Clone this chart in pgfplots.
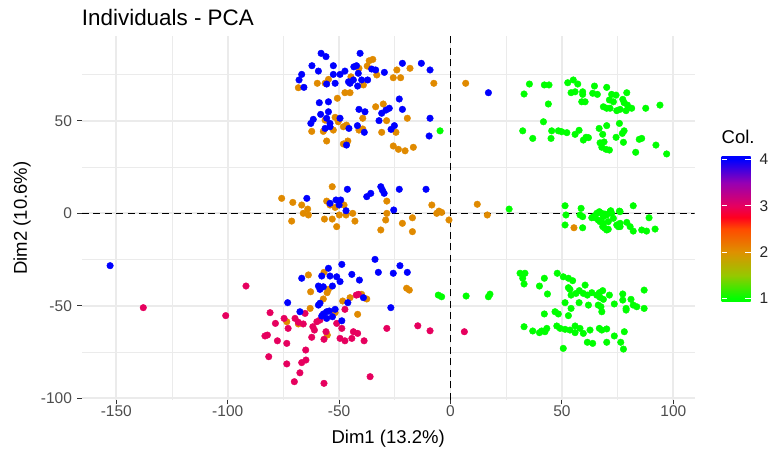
\documentclass[border=0pt]{standalone}
\usepackage{fontspec}
\setmainfont{Liberation Sans}
\usepackage{pgfplots}
\pgfplotsset{compat=1.18}
\definecolor{grpA}{RGB}{0,255,0}
\definecolor{grpB}{RGB}{224,138,0}
\definecolor{grpC}{RGB}{230,0,94}
\definecolor{grpD}{RGB}{0,0,255}
\definecolor{gridc}{RGB}{235,235,235}
\definecolor{tickc}{RGB}{51,51,51}
\definecolor{labc}{RGB}{77,77,77}
\pgfplotsset{colormap={pca}{rgb255(0pt)=(0,255,0); rgb255(29pt)=(0,255,0); rgb255(219pt)=(150,200,0);
  rgb255(410pt)=(222,145,0); rgb255(600pt)=(255,75,0); rgb255(695pt)=(255,0,30); rgb255(790pt)=(230,0,95);
  rgb255(981pt)=(150,0,180); rgb255(1171pt)=(0,0,255); rgb255(1200pt)=(0,0,255)}}
\newcommand{\tickfont}{\fontsize{15.5}{18}\selectfont}
\newcommand{\labfont}{\fontsize{18.5}{22}\selectfont}
\tikzset{pts/.style={only marks, mark=*, mark size=3.3pt, mark options={draw=none}}}
\begin{document}
\begin{tikzpicture}
\begin{axis}[
  name=ax,
  scale only axis, width=612.7pt, height=363.5pt,
  xmin=-165.5, xmax=109.5, ymin=-100.8, ymax=95.7,
  axis line style={draw=none},
  tick pos=left, tick align=outside,
  major tick length=4.7pt, minor tick length=0pt,
  tick style={tickc, line width=0.9pt},
  xtick={-150,-100,-50,0,50,100}, xticklabels={-150,-100,-50,0,50,100},
  ytick={-100,-50,0,50}, yticklabels={-100,-50,0,50},
  minor xtick={-125,-75,-25,25,75}, minor ytick={-75,-25,25,75},
  grid=both,
  major grid style={gridc, line width=1.7pt},
  minor grid style={gridc, line width=0.85pt},
  ticklabel style={font=\tickfont, text=labc},
  xticklabel style={anchor=north, inner sep=0pt, yshift=-1pt},
  yticklabel style={anchor=east, inner sep=0pt, xshift=-5pt},
  point meta min=0.925, point meta max=4.075,
  colormap name=pca,
  colorbar,
  colorbar/width=29pt,
  colorbar style={
    at={(parent axis.south east)}, anchor=south west,
    xshift=18.5pt, yshift=97.8pt,
    scale only axis, width=29pt, height=146pt,
    axis line style={draw=none},
    ytick={1,2,3,4}, yticklabels={1,2,3,4},
    tick align=inside, ytick pos=both, yticklabel pos=right,
    major tick length=5.8pt,
    tick style={white, line width=1pt},
    yticklabel style={font=\tickfont, text=black!85, anchor=west, inner sep=0pt, xshift=9pt},
    title={Col.},
    title style={at={(0,1)}, anchor=base west, inner sep=0pt, yshift=6pt, font=\labfont},
  },
]
% group 1
\addplot[pts, color=grpA] coordinates {
(35.4,69.9) (33.0,64.5) (42.1,69.4) (44.2,69.4) (43.9,59.1) (52.6,70.6) (55.1,72.1) (57.1,69.9)
(54.1,65.2) (55.9,65.7) (59.3,65.7) (59.3,64.3) (58.9,60.3) (60.4,60.3) (64.6,68.8) (63.8,64.9)
(65.9,64.3) (70.1,68.1) (72.3,64.3) (74.3,63.9) (71.3,61.3) (73.1,60.3) (79.1,65.2) (77.3,61.6)
(77.9,59.8) (79.4,58.5) (68.6,57.6) (70.1,56.8) (71.6,56.8) (74.6,55.5) (76.1,56.2) (78.8,55.5)
(81.3,56.8) (87.6,56.8) (94.0,58.5) (41.7,49.5) (32.4,44.6) (36.9,40.5) (45.1,40.5) (45.4,44.6)
(48.4,44.6) (49.9,44.1) (52.2,43.6) (55.9,42.7) (57.7,44.9) (59.6,39.6) (60.8,41.1) (61.9,40.9)
(66.7,45.9) (70.1,47.4) (75.8,48.6) (68.3,42.7) (77.9,44.6) (77.1,43.2) (74.3,41.1) (67.1,38.1)
(68.9,38.6) (67.9,35.7) (69.8,34.6) (71.3,34.2) (77.6,38.4) (84.7,40.0) (85.8,40.5) (92.2,36.9)
(83.1,33.0) (97.0,32.1) (-4.7,44.6)
(26.3,2.3) (51.4,4.1) (51.8,-0.9) (51.4,-6.3) (58.6,2.7) (58.1,-0.9) (59.3,-1.8) (59.3,-7.8)
(63.4,-2.4) (65.6,0) (66.8,0.9) (67.9,0) (68.6,-1.8) (66.3,-3.6) (67.1,-4.5) (68.3,-7.2)
(70.1,-9.0) (70.8,-4.5) (71.9,1.4) (73.1,-2.7) (75.3,-7.2) (76.1,-7.2) (75.8,1.2) (79.1,-4.9)
(80.6,-7.2) (82.0,-9.6) (82.0,4.1) (85.8,-9.0) (88.0,-9.6) (89.1,-2.4) (91.8,-8.5) (64.9,-2.4)
(70.1,-0.9) (64.1,-1.8) (69.3,-0.4) (71.6,0.9) (72.3,0) (68.6,-5.4) (69.3,-8.1) (70.8,-8.6)
(74.6,-6.3) (76.1,-5.4) (76.1,0.9)
(-5.5,-44.2) (-4.0,-45.1) (7.0,-44.7) (17.0,-45.1) (17.7,-43.7) (31.2,-32.4) (33.4,-32.4) (32.4,-35.1)
(33.0,-38.2) (42.1,-35.1) (39.9,-39.3) (43.5,-43.6) (47.9,-32.4) (50.6,-34.3) (52.9,-35.1) (54.8,-36.4)
(52.9,-40.2) (53.6,-41.1) (54.1,-44.2) (56.3,-43.3) (57.8,-41.8) (60.4,-38.8) (59.6,-43.3) (61.4,-44.2)
(63.4,-42.9) (65.6,-44.2) (66.8,-42.9) (68.3,-41.8) (71.3,-44.2) (67.1,-45.4) (68.6,-46.5) (61.9,-49.6)
(57.7,-48.3) (54.1,-51.4) (51.4,-48.3) (52.9,-55.3) (46.9,-53.2) (48.4,-54.4) (42.1,-54.4) (66.3,-49.6)
(67.5,-50.5) (67.9,-53.2) (73.5,-49.0) (77.3,-43.6) (77.3,-46.9) (78.8,-51.4) (78.8,-52.3) (81.0,-46.5)
(82.0,-49.6) (83.6,-50.5) (86.9,-51.4) (86.9,-41.5) (33.0,-61.3) (36.9,-63.6) (39.9,-64.5) (40.9,-63.6)
(42.4,-64.0) (43.2,-62.2) (47.7,-60.9) (49.2,-62.2) (51.4,-62.7) (53.6,-63.1) (55.9,-60.9) (55.9,-64.5)
(58.1,-62.2) (59.6,-64.9) (62.6,-63.1) (66.8,-62.2) (70.1,-62.5) (73.5,-66.3) (78.0,-64.0) (61.4,-69.7)
(63.8,-70.3) (70.1,-69.7) (76.4,-69.7) (77.6,-73.4) (50.6,-73.0) (67.9,-63.1)
};
% group 2
\addplot[pts, color=grpB] coordinates {
(-68.3,67.9) (-59.8,70.3) (-56.3,70.3) (-54.8,72.4) (-44.7,73.8) (-41.1,78.4) (-37.4,79.6) (-36.5,82.5)
(-34.9,83.2) (-33.1,74.8) (-25.7,73.3) (-24.1,77.5) (-22.4,73.3) (-18.2,78.4) (-7.5,70.3) (6.8,70.3)
(-39.1,69.4) (-47.4,65.2) (-45.1,65.2) (-50.8,62.2) (-33.6,57.6) (-30.2,59.1) (-19.4,51.4) (-28.7,50.1)
(-39.4,51.4) (-56.3,50.4) (-51.8,51.9) (-50.4,49.5) (-52.6,45.0) (-48.1,46.8) (-46.7,47.7) (-62.3,44.3)
(-57.1,44.3) (-55.6,39.1) (-48.1,37.5) (-46.1,39.1) (-41.1,45.0) (-39.4,45.6) (-30.9,43.8) (-24.5,43.8)
(-25.7,36.4) (-23.4,34.6) (-20.4,33.8) (-16.7,35.7)
(-75.8,8.1) (-70.8,5.9) (-66.8,4.5) (-64.1,2.3) (-66.1,0) (-63.8,-0.9) (-71.3,-4.2) (-55.6,6.6)
(-53.1,14.4) (-54.1,4.5) (-51.8,3.2) (-47.8,4.5) (-49.9,-0.9) (-56.6,-3.1) (-53.1,-3.1) (-51.1,-7.2)
(-46.9,-0.9) (-43.9,0) (-42.9,-4.2) (-28.6,6.6) (-28.6,0) (-29.1,-3.6) (-31.3,-9.0) (-21.6,-5.4)
(-17.1,-2.4) (-17.1,-9.9) (-8.4,4.5) (-6.2,0) (-5.2,1.2) (-4.0,0.5) (-0.7,-3.6) (12.0,4.9)
(16.5,-0.9) (55.4,-7.8)
(-63.8,-33.3) (-56.8,-31.9) (-62.8,-42.4) (-55.4,-42.9) (-54.8,-41.1) (-57.1,-46.3) (-48.4,-47.4) (-45.1,-45.6)
(-39.9,-43.8) (-37.6,-46.3) (-41.7,-54.6) (-19.7,-40.5) (-18.5,-41.5) (-63.0,-51.4) (-73.5,-58.6) (-68.3,-59.8)
(-55.3,-65.8) (-51.8,-53.7)
};
% group 3
\addplot[pts, color=grpC] coordinates {
(-91.8,-39.3) (-137.9,-51.0) (-100.9,-55.3) (-81.0,-53.7) (-78.6,-59.5) (-74.7,-56.8) (-72.9,-62.2) (-69.8,-56.8)
(-68.3,-58.9) (-66.1,-59.8) (-65.3,-54.1) (-61.8,-61.3) (-60.0,-58.6) (-58.6,-57.7) (-61.1,-63.1) (-62.3,-67.0)
(-56.8,-68.1) (-55.9,-64.0) (-51.1,-59.5) (-48.8,-62.2) (-47.4,-51.9) (-49.6,-67.6) (-47.4,-68.9) (-44.3,-67.6)
(-43.6,-64.0) (-41.7,-64.9) (-38.8,-68.9) (-42.3,-44.2) (-41.4,-43.8) (-83.3,-66.3) (-82.2,-65.8) (-77.7,-68.9)
(-73.5,-70.3) (-65.0,-73.9) (-81.6,-77.5) (-73.5,-81.4) (-66.8,-80.7) (-64.9,-79.3) (-67.6,-86.2) (-70.1,-91.0)
(-56.8,-91.9) (-36.1,-88.3) (-28.6,-62.2) (-14.7,-60.8) (-9.2,-63.5) (6.2,-64.0)
};
% group 4
\addplot[pts, color=grpD] coordinates {
(-58.1,86.5) (-55.9,84.7) (-40.6,86.5) (-62.2,79.8) (-59.3,76.9) (-52.6,79.8) (-66.8,75.1) (-68.0,72.1)
(-65.8,68.1) (-52.6,75.1) (-49.6,75.1) (-47.4,76.9) (-43.4,79.2) (-42.2,79.8) (-41.4,75.7) (-43.6,72.1)
(-45.8,71.1) (-45.1,70.3) (-39.9,72.1) (-37.2,72.1) (-41.7,68.8) (-55.6,69.9) (-51.8,70.3) (-35.4,78.0)
(-33.6,77.5) (-29.7,76.2) (-21.6,81.1) (-13.1,81.1) (-9.2,77.5) (17.0,65.2) (-58.9,59.8) (-54.8,60.3)
(-23.0,61.8) (-41.1,56.2) (-38.4,54.9) (-21.6,56.2) (-30.9,54.1) (-29.0,55.8) (-27.5,56.8) (-32.1,50.1)
(-9.2,51.4) (-58.3,53.5) (-54.8,54.9) (-61.6,50.8) (-62.7,48.6) (-55.6,51.4) (-54.1,48.6) (-49.6,51.4)
(-56.3,45.9) (-54.1,46.8) (-45.6,45.9) (-41.8,47.4) (-38.7,43.8) (-26.7,45.4) (-25.2,47.4) (-9.6,41.8)
(-46.7,36.9)
(-64.5,8.1) (-54.1,5.4) (-51.4,7.2) (-49.3,7.2) (-50.0,4.5) (-46.9,1.4) (-46.3,13.0) (-37.6,9.0)
(-35.8,10.8) (-31.3,14.4) (-30.6,12.6) (-29.8,10.8) (-23.0,13.0) (-11.0,13.0) (-25.5,1.8)
(-152.8,-28.3) (-33.9,-24.9) (-22.7,-28.3) (-32.4,-31.9) (-25.7,-32.4) (-19.4,-31.9) (-48.8,-27.6) (-54.8,-29.7)
(-57.8,-33.9) (-54.1,-33.9) (-51.1,-34.3) (-49.6,-36.9) (-66.8,-35.1) (-44.3,-33.0) (-40.9,-36.1) (-59.3,-39.3)
(-57.1,-39.7) (-58.6,-41.1) (-53.0,-39.3) (-73.1,-48.3) (-67.6,-53.2) (-59.3,-49.6) (-58.6,-48.6) (-55.6,-53.2)
(-54.4,-52.8) (-51.8,-51.9) (-57.8,-55.5) (-55.6,-56.8) (-53.0,-55.9) (-48.8,-58.1) (-46.1,-48.3) (-39.1,-45.6)
(-26.8,-51.0) (-57.1,-54.4)
};
\draw[black, line width=1.2pt, dash pattern=on 7pt off 4.5pt] (axis cs:-165.5,0) -- (axis cs:109.5,0);
\draw[black, line width=1.2pt, dash pattern=on 7pt off 4.5pt] (axis cs:0,-100.8) -- (axis cs:0,95.7);
\end{axis}
\node[anchor=base west, inner sep=0pt, font=\fontsize{22.4}{26}\selectfont] at ([yshift=10.3pt]ax.north west) {Individuals - PCA};
\node[anchor=base, inner sep=0pt, font=\labfont] at ([yshift=-43.8pt]ax.south) {Dim1 (13.2\%)};
\node[anchor=base, inner sep=0pt, rotate=90, font=\labfont] at ([xshift=-55pt]ax.west) {Dim2 (10.6\%)};
\pgfresetboundingbox
\path[use as bounding box] ([shift={(-81.8pt,-52.2pt)}]ax.south west) rectangle ([shift={(74.5pt,36.3pt)}]ax.north east);
\end{tikzpicture}
\end{document}
